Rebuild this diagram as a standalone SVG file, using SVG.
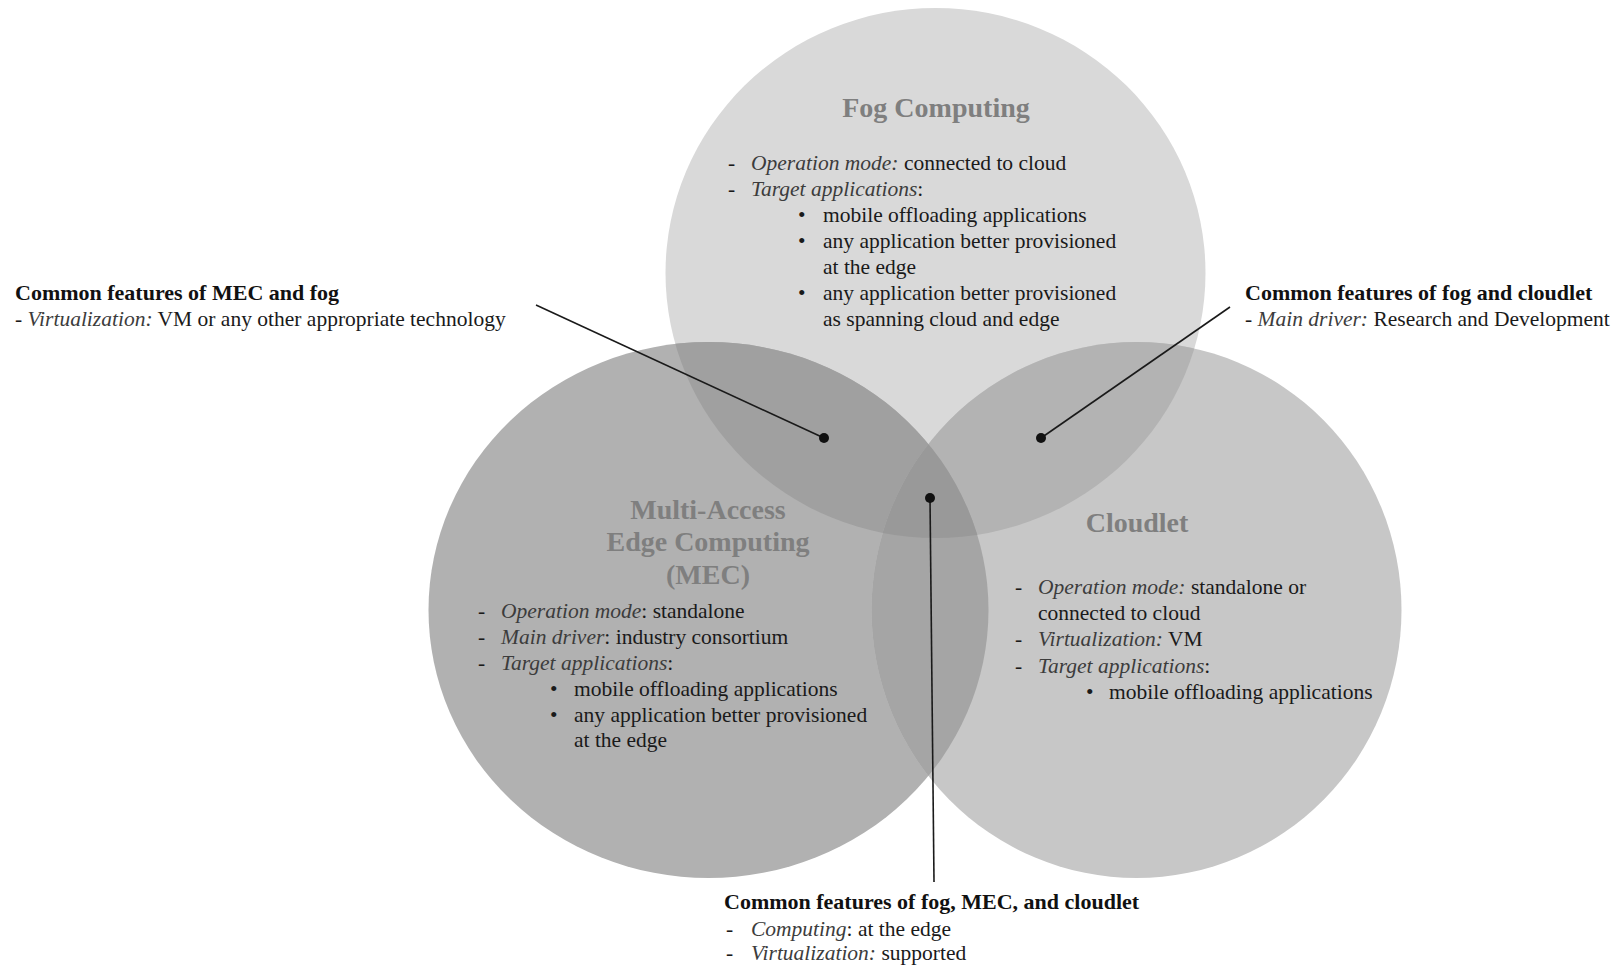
<svg xmlns="http://www.w3.org/2000/svg" width="1624" height="966" viewBox="0 0 1624 966">
  <style>
    text { font-family: "Liberation Serif", "Times New Roman", serif; }
    .title { font-size: 28px; font-weight: bold; fill: #7f7f7f; text-anchor: middle; }
    .body { font-size: 21.5px; fill: #1a1a1a; }
    .it { font-style: italic; fill: #3c3c3c; }
    .label { font-size: 22px; font-weight: bold; fill: #111111; }
    .conn { stroke: #1a1a1a; stroke-width: 1.6; fill: none; }
    .dot { fill: #111111; }
  </style>
  <defs>
    <ellipse id="fogShape" cx="935.5" cy="273" rx="270" ry="265"/>
    <ellipse id="mecShape" cx="708.5" cy="610" rx="280" ry="268"/>
    <ellipse id="cloudletShape" cx="1136.5" cy="610" rx="265" ry="268"/>
    <clipPath id="clipFog"><use href="#fogShape"/></clipPath>
    <clipPath id="clipMec"><use href="#mecShape"/></clipPath>
  </defs>

  <rect width="1624" height="966" fill="#ffffff"/>

  <!-- base circles -->
  <g id="fog-circle"><use href="#fogShape" fill="#d9d9d9"/></g>
  <g id="mec-circle"><use href="#mecShape" fill="#b1b1b1"/></g>
  <g id="cloudlet-circle"><use href="#cloudletShape" fill="#c7c7c7"/></g>

  <!-- overlap regions -->
  <g id="overlaps">
    <use href="#mecShape" fill="#a0a0a0" clip-path="url(#clipFog)"/>
    <use href="#cloudletShape" fill="#b3b3b3" clip-path="url(#clipFog)"/>
    <use href="#cloudletShape" fill="#a5a5a5" clip-path="url(#clipMec)"/>
    <g clip-path="url(#clipFog)">
      <use href="#cloudletShape" fill="#999999" clip-path="url(#clipMec)"/>
    </g>
  </g>

  <!-- Fog Computing -->
  <g id="fog">
    <text class="title" x="936" y="117">Fog Computing</text>
    <text class="body" x="728" y="170">-</text>
    <text class="body" x="751" y="170"><tspan class="it">Operation mode:</tspan> connected to cloud</text>
    <text class="body" x="728" y="196">-</text>
    <text class="body" x="751" y="196"><tspan class="it">Target applications</tspan>:</text>
    <text class="body" x="798" y="222">•</text>
    <text class="body" x="823" y="222">mobile offloading applications</text>
    <text class="body" x="798" y="248">•</text>
    <text class="body" x="823" y="248">any application better provisioned</text>
    <text class="body" x="823" y="274">at the edge</text>
    <text class="body" x="798" y="300">•</text>
    <text class="body" x="823" y="300">any application better provisioned</text>
    <text class="body" x="823" y="326">as spanning cloud and edge</text>
  </g>

  <!-- Multi-Access Edge Computing -->
  <g id="mec">
    <text class="title" x="708" y="519">Multi-Access</text>
    <text class="title" x="708" y="551">Edge Computing</text>
    <text class="title" x="708" y="584">(MEC)</text>
    <text class="body" x="478" y="618">-</text>
    <text class="body" x="501" y="618"><tspan class="it">Operation mode</tspan>: standalone</text>
    <text class="body" x="478" y="644">-</text>
    <text class="body" x="501" y="644"><tspan class="it">Main driver</tspan>: industry consortium</text>
    <text class="body" x="478" y="670">-</text>
    <text class="body" x="501" y="670"><tspan class="it">Target applications</tspan>:</text>
    <text class="body" x="550" y="696">•</text>
    <text class="body" x="574" y="696">mobile offloading applications</text>
    <text class="body" x="550" y="722">•</text>
    <text class="body" x="574" y="722">any application better provisioned</text>
    <text class="body" x="574" y="747">at the edge</text>
  </g>

  <!-- Cloudlet -->
  <g id="cloudlet">
    <text class="title" x="1137" y="532">Cloudlet</text>
    <text class="body" x="1015" y="594">-</text>
    <text class="body" x="1038" y="594"><tspan class="it">Operation mode:</tspan> standalone or</text>
    <text class="body" x="1038" y="620">connected to cloud</text>
    <text class="body" x="1015" y="646">-</text>
    <text class="body" x="1038" y="646"><tspan class="it">Virtualization:</tspan> VM</text>
    <text class="body" x="1015" y="673">-</text>
    <text class="body" x="1038" y="673"><tspan class="it">Target applications</tspan>:</text>
    <text class="body" x="1086" y="699">•</text>
    <text class="body" x="1109" y="699">mobile offloading applications</text>
  </g>

  <!-- connectors -->
  <g id="connectors">
    <line class="conn" x1="536" y1="305" x2="824" y2="438"/>
    <circle class="dot" cx="824" cy="438" r="5"/>
    <line class="conn" x1="1230" y1="307" x2="1041" y2="438"/>
    <circle class="dot" cx="1041" cy="438" r="5"/>
    <line class="conn" x1="930" y1="498" x2="934" y2="882"/>
    <circle class="dot" cx="930" cy="498" r="5"/>
  </g>

  <!-- shared-feature labels -->
  <g id="label-mec-fog">
    <text class="label" x="15" y="300">Common features of MEC and fog</text>
    <text class="body" x="15" y="326">- <tspan class="it">Virtualization:</tspan> VM or any other appropriate technology</text>
  </g>
  <g id="label-fog-cloudlet">
    <text class="label" x="1245" y="300">Common features of fog and cloudlet</text>
    <text class="body" x="1245" y="326">- <tspan class="it">Main driver:</tspan> Research and Development</text>
  </g>
  <g id="label-all">
    <text class="label" x="724" y="909">Common features of fog, MEC, and cloudlet</text>
    <text class="body" x="726" y="936">-</text>
    <text class="body" x="751" y="936"><tspan class="it">Computing</tspan>: at the edge</text>
    <text class="body" x="726" y="960">-</text>
    <text class="body" x="751" y="960"><tspan class="it">Virtualization:</tspan> supported</text>
  </g>
</svg>
